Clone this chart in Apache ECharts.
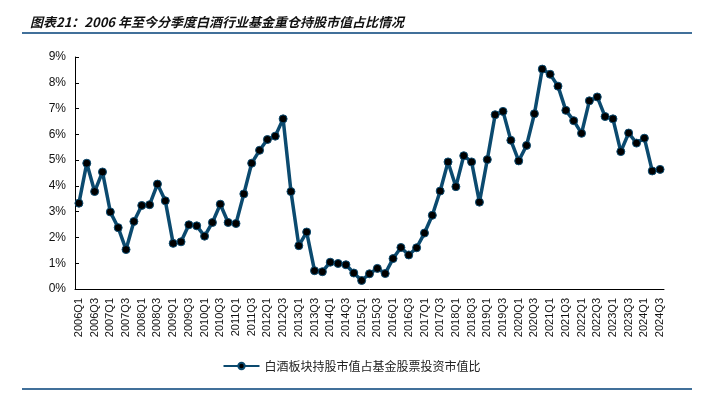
<!DOCTYPE html>
<html><head><meta charset="utf-8">
<script src="https://cdn.jsdelivr.net/npm/echarts@6/dist/echarts.min.js"></script>
<style>html,body{margin:0;padding:0;background:#fff}#c{width:703px;height:396px}</style>
</head><body><div id="c"></div>
<script>
var years = [];
for (var y = 2006; y <= 2024; y++) years.push(y);
var categories = [];
years.forEach(function(y){ ['Q1','Q2','Q3','Q4'].forEach(function(q){ if (!(y === 2024 && q === 'Q4')) categories.push(y + q); }); });
var seriesName = '白酒板块持股市值占基金股票投资市值比';
var values = [
 3.33,4.88,3.78,4.54,2.99,2.38,1.53,2.62,3.24,3.27,4.07,3.42,
 1.77,1.83,2.49,2.45,2.05,2.58,3.29,2.58,2.54,3.69,4.88,5.38,
 5.80,5.93,6.60,3.78,1.68,2.21,0.71,0.67,1.04,0.99,0.94,0.62,
 0.33,0.59,0.80,0.60,1.18,1.61,1.32,1.60,2.17,2.86,3.80,4.93,
 3.97,5.17,4.93,3.37,5.02,6.76,6.89,5.77,4.97,5.57,6.80,8.53,
 8.33,7.87,6.93,6.53,6.04,7.30,7.45,6.69,6.60,5.33,6.05,5.66,
 5.85,4.58,4.64
];
var yTicks = [0,1,2,3,4,5,6,7,8,9];
var title = '图表21：2006 年至今分季度白酒行业基金重仓持股市值占比情况';

var chart = echarts.init(document.getElementById('c'));
chart.setOption({
  animation: false,
  title: {
    text: title, left: 25, top: 11,
    textStyle: {fontFamily: 'Noto Sans CJK SC', fontSize: 13, fontWeight: 'bold', fontStyle: 'italic', color: '#111'}
  },
  graphic: [
    {type: 'rect', shape: {x: 22, y: 32, width: 670, height: 2}, style: {fill: '#41709a'}},
    {type: 'rect', shape: {x: 22, y: 388, width: 670, height: 2}, style: {fill: '#41709a'}}
  ],
  legend: {
    data: [seriesName], left: 'center', top: 355, itemWidth: 36, itemHeight: 8,
    textStyle: {fontFamily: 'Noto Sans CJK SC', fontSize: 12, color: '#222'}
  },
  grid: {left: 75, right: 39, top: 57, bottom: 107, containLabel: false},
  xAxis: {
    type: 'category', data: categories, boundaryGap: true,
    axisLine: {lineStyle: {color: '#000', width: 1}},
    axisTick: {inside: true, length: 3, interval: 0, lineStyle: {color: '#000'}},
    axisLabel: {interval: 1, rotate: 90, fontFamily: 'Liberation Sans', fontSize: 11, color: '#111', margin: 9}
  },
  yAxis: {
    type: 'value', min: 0, max: 9, interval: 1,
    axisLine: {show: true, lineStyle: {color: '#000', width: 1}},
    axisTick: {show: true, inside: true, length: 4, lineStyle: {color: '#000'}},
    splitLine: {show: false},
    axisLabel: {fontFamily: 'Liberation Sans', fontSize: 12, color: '#111', margin: 9,
      formatter: function(v){ return v + '%'; }}
  },
  series: [{
    name: seriesName, type: 'line', data: values,
    symbol: 'circle', symbolSize: 8, showAllSymbol: true,
    lineStyle: {color: '#0b4a6f', width: 3.5},
    itemStyle: {color: '#000', borderColor: '#0b4a6f', borderWidth: 1}
  }]
});
</script></body></html>
